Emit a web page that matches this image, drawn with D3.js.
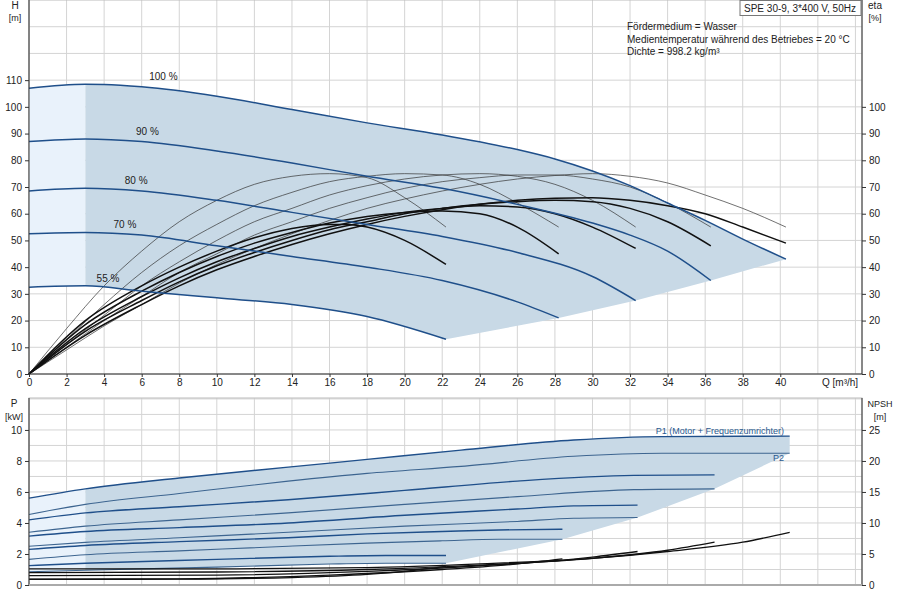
<!DOCTYPE html>
<html><head><meta charset="utf-8">
<script src="https://cdn.jsdelivr.net/npm/d3@7"></script>
<style>body{margin:0;background:#fff}svg{font-family:Arial,"Liberation Sans",sans-serif}</style>
</head><body><svg id="c" width="900" height="600"></svg>
<script>
// ---- data ----
const speedLabels = ["100 %","90 %","80 %","70 %","55 %"];
const labelQ = [6.4, 5.7, 5.1, 4.5, 3.6];
const headCurves = [
 [[0,107],[3,108.5],[4,108.4],[6,107.5],[10,104],[14,99],[18,94],[22,89.5],[26,84],[28,80.5],[30,76],[32,70.5],[34,64],[36,57.5],[38,50.5],[40.3,43]],
 [[0,87],[3,88],[6,87],[10,83.5],[14,79],[18,74],[22,69.5],[26,63.5],[30,56.5],[32,52],[34,46],[36.3,35]],
 [[0,68.5],[3,69.5],[6,68.5],[10,65],[14,60.5],[18,56],[22,51.5],[26,45.5],[30,36.5],[32.3,27.5]],
 [[0,52.5],[3,53],[6,52],[10,48],[14,44],[18,40],[22,35],[26,27],[28.2,21]],
 [[0,32.5],[3,33],[6,31],[10,28.5],[14,26],[18,21.5],[22.2,13]]
];
const etaPump = [
 [[0,0],[2,17],[4,33],[6,46],[8,57],[10,65],[12,71],[14,74],[16,75],[18,73.5],[20,66],[22.2,55]],
 [[0,0],[2,13],[4,26],[6,38],[8,48],[10,56],[12,63],[14,68],[16,72],[18,74],[20,75],[22,74.5],[24,71],[26,64],[28.2,55]],
 [[0,0],[2,11],[4,22],[6,33],[8,42],[10,50],[12,57],[14,62],[16,67],[18,70.5],[20,73],[22,74.5],[24,75],[26,74],[28,71],[30,65],[32.3,55]],
 [[0,0],[2,10],[4,20],[6,29],[8,38],[10,45],[12,52],[14,57],[16,62],[18,66],[20,69.5],[22,72],[24,73.5],[26,74.5],[28,74.5],[30,73],[32,70],[34,64],[36.3,55]],
 [[0,0],[2,9],[4,18],[6,26],[8,34],[10,41],[12,47],[14,52.5],[16,57.5],[18,62],[20,65.5],[22,68.5],[24,71],[26,73],[28,74.3],[30,75],[32,74],[34,71.5],[36,67],[38,62],[40.3,55]]
];
const etaTotal = [
 [[0,0],[3,20],[6,33],[8,40],[10,46],[12,51],[14,54.5],[16,56],[17,56],[18,55],[20,50],[22.2,41]],
 [[0,0],[3,18.5],[6,31],[8,38],[10,44],[12,49],[14,53],[16,56.5],[18,59],[20,60.5],[22,61],[24,60],[26,55],[28.2,45]],
 [[0,0],[3,17],[6,29],[8,36],[10,42],[12,47],[14,51.5],[16,55],[18,58],[20,60.5],[22,62],[24,63],[26,62.5],[28,60],[30,55],[32.3,47]],
 [[0,0],[3,16],[6,27.5],[8,34.5],[10,40.5],[12,45.5],[14,50],[16,54],[18,57],[20,60],[22,62],[24,63.5],[26,64.5],[28,65],[30,64.5],[32,62],[34,57],[36.3,48]],
 [[0,0],[3,14.5],[6,26],[8,33],[10,39],[12,44],[14,48.5],[16,52.5],[18,56],[20,59],[22,61.5],[24,63.5],[26,65],[28,65.8],[30,66],[32,65],[34,63],[36,60],[38,55],[40.3,49]]
];
const powerP1 = [
 [[0,5.6],[3,6.2],[8,6.9],[13.8,7.6],[18,8.1],[23,8.7],[29,9.35],[33.7,9.57],[40.5,9.6]],
 [[0,4.2],[3,4.65],[8,5.05],[13.8,5.5],[20,6.1],[26,6.7],[32.2,7.07],[36.5,7.1]],
 [[0,3.15],[3,3.45],[8,3.7],[13.8,4.0],[20,4.5],[26,4.9],[29,5.1],[32.4,5.15]],
 [[0,2.3],[3,2.55],[8,2.8],[13.8,3.05],[18,3.3],[22,3.45],[25,3.55],[28.4,3.6]],
 [[0,1.25],[3,1.4],[10,1.65],[16,1.85],[19,1.9],[22.2,1.9]]
];
const powerP2 = [
 [[0,4.55],[3,5.2],[8,5.9],[13.8,6.7],[18,7.2],[23,7.65],[29,8.3],[33.7,8.5],[40.5,8.5]],
 [[0,3.4],[3,3.8],[8,4.2],[13.8,4.65],[20,5.2],[26,5.7],[32.2,6.15],[36.5,6.2]],
 [[0,2.5],[3,2.75],[8,3.05],[13.8,3.4],[20,3.8],[26,4.1],[29,4.3],[32.4,4.35]],
 [[0,1.65],[3,1.95],[8,2.2],[13.8,2.5],[18,2.7],[22,2.85],[25,2.95],[28.4,2.95]],
 [[0,0.85],[3,0.95],[10,1.15],[16,1.35],[19,1.4],[22.2,1.4]]
];
const npsh = [
 [[0,2.6],[10,2.6],[18,2.8],[24,3.4],[30,4.3],[34,5.4],[38,6.9],[40.5,8.5]],
 [[0,2.0],[10,2.1],[18,2.5],[24,3.2],[30,4.3],[34,5.6],[36.5,6.9]],
 [[0,1.5],[10,1.6],[18,2.2],[24,3.1],[28,3.9],[30,4.5],[32.4,5.4]],
 [[0,0.95],[8,1.0],[16,1.6],[22,2.5],[26,3.4],[28.4,4.2]],
 [[0,0.9],[8,0.95],[14,1.2],[18,1.7],[20,2.2],[22.2,3.0]]
];
const xTicks = d3.range(0,42,2);
const hTicks = d3.range(0,120,10);
const etaTicks = d3.range(0,110,10);
const pTicks = [0,2,4,6,8,10];
const npshTicks = [0,5,10,15,20,25];
const infoLines = ["Fördermedium = Wasser","Medientemperatur während des Betriebes = 20 °C","Dichte = 998.2 kg/m³"];
const titleText = "SPE 30-9, 3*400 V, 50Hz";

// ---- drawing ----
const svg = d3.select("#c");
const L=29, R=862, T1=0, B1=374, T2=398, B2=585;
const x = d3.scaleLinear().domain([0,44.35]).range([L,R]);
const yH = d3.scaleLinear().domain([0,140]).range([B1,T1]);
const yP = d3.scaleLinear().domain([0,12.06]).range([B2,T2]);
const yN = d3.scaleLinear().domain([0,30.15]).range([B2,T2]);
const blue="#1f4f8a", fillC="#c8d9e6", fillL="#e9f2fb", grid="#d4d4d4";

function gridPanel(ys, top, bottom, hvals){
  const g=svg.append("g");
  d3.range(0,46,2).forEach(v=>{ if(x(v)<=R) g.append("line").attr("x1",x(v)).attr("x2",x(v)).attr("y1",top).attr("y2",bottom).attr("stroke",grid);});
  hvals.forEach(v=>g.append("line").attr("x1",L).attr("x2",R).attr("y1",ys(v)).attr("y2",ys(v)).attr("stroke",grid));
  g.append("rect").attr("x",L).attr("y",top).attr("width",R-L).attr("height",bottom-top).attr("fill","none").attr("stroke","#bbb");
}
gridPanel(yH,T1,B1,d3.range(10,140,10));
gridPanel(yP,T2,B2,d3.range(1,13,1));

const line = (xs,ys)=>d3.line().x(d=>xs(d[0])).y(d=>ys(d[1])).curve(d3.curveMonotoneX);

// top shaded area
function region(top, bottomCurve, ends, ys){
  const pts = top.concat(ends.slice().reverse(), bottomCurve.slice().reverse());
  return pts;
}
const hEnds = headCurves.map(c=>c[c.length-1]);
function clipFill(defsId, xmin, xmax, top, bot){
  svg.append("clipPath").attr("id",defsId).append("rect").attr("x",x(xmin)).attr("y",top).attr("width",x(xmax)-x(xmin)).attr("height",bot-top);
}
clipFill("cl1",0,3,T1,B1); clipFill("cr1",3,45,T1,B1);
clipFill("cl2",0,3,T2,B2); clipFill("cr2",3,45,T2,B2);

function drawArea(topC, botC, ends, ys, cl, cr){
  const lg = d3.line().x(d=>x(d[0])).y(d=>ys(d[1])).curve(d3.curveMonotoneX);
  const topPath = lg(topC);
  const botRev = botC.slice().reverse();
  const botPath = d3.line().x(d=>x(d[0])).y(d=>ys(d[1])).curve(d3.curveMonotoneX)(botC);
  // build polygon from sampled points
  const sample=(c)=>{ const p=svg.append("path").attr("d",lg(c)).attr("fill","none"); const n=p.node(), len=n.getTotalLength(), out=[]; for(let i=0;i<=80;i++){const q=n.getPointAtLength(len*i/80); out.push([q.x,q.y]);} p.remove(); return out;};
  const tp=sample(topC), bp=sample(botC).reverse();
  const ep=ends.slice().reverse().map(d=>[x(d[0]),ys(d[1])]);
  const poly=tp.concat(ep,bp);
  svg.append("path").attr("d","M"+poly.join("L")+"Z").attr("fill",fillL).attr("clip-path",`url(#${cl})`);
  svg.append("path").attr("d","M"+poly.join("L")+"Z").attr("fill",fillC).attr("clip-path",`url(#${cr})`);
}
drawArea(headCurves[0], headCurves[4], hEnds, yH, "cl1","cr1");
const pEnds = [powerP1[0][powerP1[0].length-1]].concat(powerP2.map(c=>c[c.length-1]));
drawArea(powerP1[0], powerP2[4], pEnds, yP, "cl2","cr2");

// efficiency
etaPump.forEach(c=>svg.append("path").attr("d",line(x,yH)(c)).attr("fill","none").attr("stroke","#333").attr("stroke-width",0.7));
etaTotal.forEach(c=>svg.append("path").attr("d",line(x,yH)(c)).attr("fill","none").attr("stroke","#111").attr("stroke-width",1.5));
// head
headCurves.forEach(c=>svg.append("path").attr("d",line(x,yH)(c)).attr("fill","none").attr("stroke",blue).attr("stroke-width",1.5));
speedLabels.forEach((s,i)=>{
  const c=headCurves[i]; const h=d3.max(c,d=>d[1]);
  svg.append("text").attr("x",x(labelQ[i])).attr("y",yH(h)-4).attr("font-size",10).attr("fill","#222").text(s);
});
// power
powerP1.forEach(c=>svg.append("path").attr("d",line(x,yP)(c)).attr("fill","none").attr("stroke",blue).attr("stroke-width",1.4));
powerP2.forEach(c=>svg.append("path").attr("d",line(x,yP)(c)).attr("fill","none").attr("stroke","#3d6590").attr("stroke-width",1.1));
npsh.forEach(c=>svg.append("path").attr("d",line(x,yN)(c)).attr("fill","none").attr("stroke","#111").attr("stroke-width",1.3));
svg.append("text").attr("x",x(40.2)).attr("y",yP(9.75)).attr("text-anchor","end").attr("font-size",9).attr("fill","#2a5a90").text("P1 (Motor + Frequenzumrichter)");
svg.append("text").attr("x",x(40.2)).attr("y",yP(8.0)).attr("text-anchor","end").attr("font-size",9).attr("fill","#2a5a90").text("P2");

// axes
const ax=(g)=>{g.selectAll("text").attr("font-size",10).attr("fill","#222"); g.selectAll(".domain").attr("stroke","#333"); g.selectAll("line").attr("stroke","#333");};
svg.append("g").attr("transform",`translate(${L},0)`).call(d3.axisLeft(yH).tickValues(hTicks).tickSize(4).tickPadding(3)).call(ax).select(".domain").attr("d",`M0,${T1}V${B1}`);
svg.append("g").attr("transform",`translate(${R},0)`).call(d3.axisRight(yH).tickValues(etaTicks).tickSize(4).tickPadding(3)).call(ax).select(".domain").attr("d",`M0,${T1}V${B1}`);
svg.append("g").attr("transform",`translate(0,${B1})`).call(d3.axisBottom(x).tickValues(xTicks).tickSize(3).tickPadding(2)).call(ax).select(".domain").attr("d",`M${L},0H${R}`);
svg.append("g").attr("transform",`translate(${L},0)`).call(d3.axisLeft(yP).tickValues(pTicks).tickSize(4).tickPadding(3)).call(ax).select(".domain").attr("d",`M0,${T2}V${B2}`);
svg.append("g").attr("transform",`translate(${R},0)`).call(d3.axisRight(yN).tickValues(npshTicks).tickSize(4).tickPadding(3)).call(ax).select(".domain").attr("d",`M0,${T2}V${B2}`);
svg.append("line").attr("x1",L).attr("x2",R).attr("y1",B2).attr("y2",B2).attr("stroke","#aaa").attr("stroke-width",2);

const t=(xx,yy,s,a="start",sz=10)=>svg.append("text").attr("x",xx).attr("y",yy).attr("text-anchor",a).attr("font-size",sz).attr("fill","#222").text(s);
t(15,9,"H","middle"); t(15,21,"[m]","middle",9);
t(875,9,"eta","middle"); t(875,21,"[%]","middle",9);
t(14,407,"P","middle"); t(14,420,"[kW]","middle",9);
t(880,407,"NPSH","middle",9); t(880,420,"[m]","middle",9);
t(822,386,"Q [m³/h]","start",10);
svg.append("rect").attr("x",740).attr("y",0.5).attr("width",121).attr("height",15).attr("fill","#fff").attr("stroke","#777");
t(800,12,titleText,"middle",10);
infoLines.forEach((s,i)=>t(627,30+i*12.5,s,"start",10));
</script></body></html>
